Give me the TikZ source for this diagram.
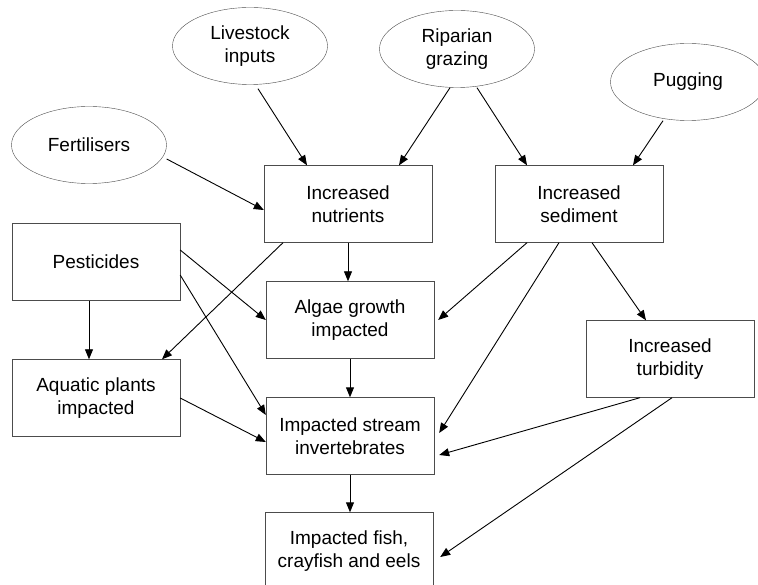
\documentclass[tikz,border=0pt]{standalone}
\usepackage{fontspec}
\setmainfont{Liberation Sans}
\usetikzlibrary{shapes.geometric,arrows.meta}

\begin{document}
\begin{tikzpicture}[x=1pt, y=-1pt,
    font=\fontsize{19}{23}\selectfont,
    cause/.style={draw=black!70, ellipse, minimum width=155pt, minimum height=77pt, inner sep=0pt, align=center},
    effect/.style={draw=black!70, rectangle, minimum width=168pt, minimum height=77pt, inner sep=0pt, align=center},
    arr/.style={-{Triangle[length=10pt,width=8pt]}, line width=0.9pt}]
    \useasboundingbox (0,0) rectangle (758,585);

    % sources
    \node[cause] (live) at (250,46) {Livestock\\inputs};
    \node[cause] (ripa) at (457,49) {Riparian\\grazing};
    \node[cause] (pugg) at (688,82) {Pugging};
    \node[cause] (fert) at (89,145) {Fertilisers};

    % effects
    \node[effect] (nutr) at (348,204) {Increased\\nutrients};
    \node[effect] (sedi) at (579,204) {Increased\\sediment};
    \node[effect] (pest) at (96,262) {Pesticides};
    \node[effect] (alga) at (350,320) {Algae growth\\impacted};
    \node[effect] (aqua) at (96,398) {Aquatic plants\\impacted};
    \node[effect] (turb) at (670,359) {Increased\\turbidity};
    \node[effect] (inve) at (350,436) {Impacted stream\\invertebrates};
    \node[effect] (fish) at (349,551) {Impacted fish,\\crayfish and eels};

    % into nutrients and sediment
    \draw[arr] ([xshift=8pt,yshift=-4pt]live.south) -- ([xshift=-41pt]nutr.north);
    \draw[arr] ([yshift=-14pt]fert.east) -- ([yshift=-6pt]nutr.west);
    \draw[arr] ([xshift=-7pt]ripa.south) -- ([xshift=51pt]nutr.north);
    \draw[arr] ([xshift=20pt]ripa.south) -- ([xshift=-52pt]sedi.north);
    \draw[arr] ([xshift=-25pt]pugg.south) -- ([xshift=54pt]sedi.north);

    % nutrients and pesticides
    \draw[arr] (nutr.south) -- (nutr.south |- alga.north);
    \draw[arr] ([xshift=-65pt]nutr.south) -- ([xshift=66pt]aqua.north);
    \draw[arr] ([yshift=12pt]pest.east) -- (alga.west);
    \draw[arr] ([yshift=-13pt]pest.east) -- ([yshift=21pt]inve.west);
    \draw[arr] ([xshift=-7pt]pest.south) -- ([xshift=-7pt]aqua.north);
    \draw[arr] (aqua.east) -- ([yshift=-6pt]inve.west);

    % down the middle
    \draw[arr] (alga.south) -- (inve.north);
    \draw[arr] (inve.south) -- (inve.south |- fish.north);

    % sediment and turbidity
    \draw[arr] ([xshift=-52pt]sedi.south) -- ([xshift=4pt]alga.east);
    \draw[arr] ([xshift=-20pt]sedi.south) -- ([xshift=5pt,yshift=3pt]inve.east);
    \draw[arr] ([xshift=13pt]sedi.south) -- ([xshift=-24pt]turb.north);
    \draw[arr] ([xshift=-30pt]turb.south) -- ([xshift=5pt,yshift=-19pt]inve.east);
    \draw[arr] ([xshift=2pt]turb.south) -- ([xshift=7pt,yshift=-6pt]fish.east);
\end{tikzpicture}
\end{document}
